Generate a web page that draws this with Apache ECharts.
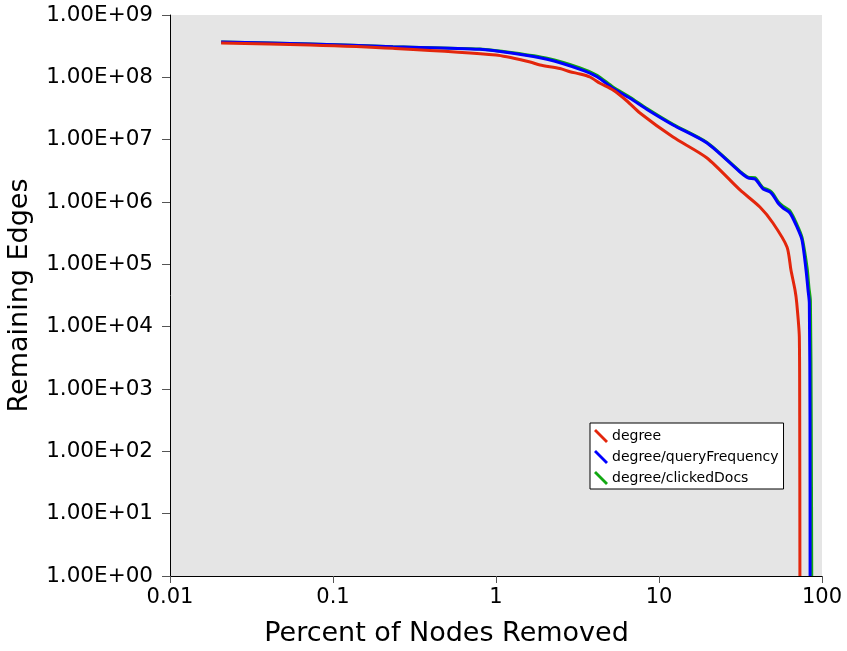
<!DOCTYPE html>
<html>
<head>
<meta charset="utf-8">
<script src="https://cdn.jsdelivr.net/npm/echarts@6/dist/echarts.min.js"></script>
<style>
  html, body { margin: 0; padding: 0; background: #ffffff; }
  #chart { width: 847px; height: 651px; }
</style>
</head>
<body>
<div id="chart"></div>
<script>
// Remaining edges after removing nodes, ordered by three ranking strategies
const seriesNames = ['degree', 'degree/queryFrequency', 'degree/clickedDocs'];

const degreeX = [0.0206, 0.0723, 0.233, 1.0, 1.62, 1.862, 2.47, 2.845, 3.277, 3.77, 4.345, 5.22, 6.36, 7.64, 12.19, 19.7, 31.4, 41.6, 50.0, 61.0, 64.5, 68.3, 70.0, 72.6, 73.0, 73.2];
const degreeY = [3.56e8, 3.30e8, 2.92e8, 2.28e8, 1.76e8, 1.577e8, 1.385e8, 1.231e8, 1.131e8, 1.012e8, 8.02e7, 6.26e7, 4.17e7, 2.68e7, 1.10e7, 5.08e6, 1.56e6, 8.31e5, 4.60e5, 1.90e5, 8.11e4, 3.87e4, 2.39e4, 6820, 318, 1];

const queryFreqX = [0.0206, 0.0723, 0.233, 0.798, 1.271, 2.055, 3.277, 4.165, 5.22, 6.64, 8.44, 12.19, 19.7, 31.4, 35.2, 38.8, 41.6, 43.5, 48.0, 50.0, 53.7, 57.7, 63.6, 70.2, 75.4, 79.8, 82.1, 83.6, 84.4, 84.5];
const queryFreqY = [3.69e8, 3.42e8, 3.10e8, 2.82e8, 2.43e8, 1.947e8, 1.345e8, 1.024e8, 6.67e7, 4.61e7, 3.05e7, 1.72e7, 8.84e6, 3.03e6, 2.43e6, 2.34e6, 1.87e6, 1.62e6, 1.45e6, 1.29e6, 9.63e5, 8.01e5, 6.66e5, 3.97e5, 2.46e5, 8.11e4, 3.87e4, 2.39e4, 318, 1];

const clickedDocsX = [0.0206, 0.0723, 0.233, 0.798, 1.271, 2.055, 3.277, 4.165, 5.22, 6.64, 8.44, 12.19, 19.7, 31.4, 35.2, 38.8, 41.6, 43.5, 48.0, 50.0, 53.7, 57.7, 63.6, 70.2, 75.4, 81.0, 83.2, 84.9, 85.9, 86.5];
const clickedDocsY = [3.69e8, 3.42e8, 3.10e8, 2.84e8, 2.47e8, 2.02e8, 1.42e8, 1.08e8, 7.0e7, 4.8e7, 3.15e7, 1.76e7, 9.0e6, 3.10e6, 2.50e6, 2.45e6, 1.95e6, 1.70e6, 1.52e6, 1.36e6, 1.02e6, 8.6e5, 7.2e5, 4.35e5, 2.7e5, 8.8e4, 4.2e4, 2.6e4, 330, 1];

const xTickLabels = ['0.01', '0.1', '1', '10', '100'];
const yTickLabels = ['1.00E+00', '1.00E+01', '1.00E+02', '1.00E+03', '1.00E+04', '1.00E+05', '1.00E+06', '1.00E+07', '1.00E+08', '1.00E+09'];

const colors = {
  'degree': '#e3260c',
  'degree/queryFrequency': '#0000ff',
  'degree/clickedDocs': '#12a812'
};

const FONT = 'DejaVu Sans';

function zip(xs, ys) {
  return xs.map((x, i) => [x, ys[i]]);
}

function lineSeries(name, xs, ys) {
  return {
    name: name,
    type: 'line',
    data: zip(xs, ys),
    showSymbol: false,
    symbol: 'none',
    smooth: 0.25,
    color: colors[name],
    lineStyle: { width: 3, color: colors[name] }
  };
}

const chart = echarts.init(document.getElementById('chart'), null, { renderer: 'canvas' });

chart.setOption({
  animation: false,
  backgroundColor: '#ffffff',
  textStyle: { fontFamily: FONT },
  grid: {
    left: 170, right: 25, top: 15, bottom: 75,
    outerBoundsMode: 'none',
    containLabel: false,
    show: true, backgroundColor: '#e5e5e5', borderWidth: 0
  },
  legend: {
    orient: 'vertical',
    left: 590, top: 423,
    data: seriesNames,
    backgroundColor: '#ffffff',
    borderColor: '#000000',
    borderWidth: 1,
    borderRadius: 0,
    padding: [6, 5, 4, 4],
    itemGap: 7,
    itemWidth: 14,
    itemHeight: 14,
    icon: 'path://M0,2 L2,0 L14,12 L12,14 Z',
    textStyle: { fontFamily: FONT, fontSize: 14, color: '#000000', padding: [0, 0, 0, -1] }
  },
  xAxis: {
    type: 'log',
    logBase: 10,
    min: 0.01,
    max: 100,
    interval: 1,
    name: 'Percent of Nodes Removed',
    nameLocation: 'middle',
    nameGap: 44,
    nameTextStyle: { fontFamily: FONT, fontSize: 27, color: '#000000', padding: [0, 99, 0, 0] },
    axisLine: { show: true, onZero: false, lineStyle: { color: '#000000', width: 1 } },
    axisTick: { show: true, length: 7, lineStyle: { color: '#555555' } },
    minorTick: { show: false },
    splitLine: { show: false },
    axisLabel: {
      margin: 11,
      fontFamily: FONT, fontSize: 21, color: '#000000',
      formatter: v => xTickLabels[Math.round(Math.log10(v)) + 2]
    }
  },
  yAxis: {
    type: 'log',
    logBase: 10,
    min: 1,
    max: 1e9,
    interval: 1,
    name: 'Remaining Edges',
    nameLocation: 'middle',
    nameGap: 137,
    nameTextStyle: { fontFamily: FONT, fontSize: 27, color: '#000000' },
    axisLine: { show: true, onZero: false, lineStyle: { color: '#000000', width: 1 } },
    axisTick: { show: true, length: 8, lineStyle: { color: '#555555' } },
    minorTick: { show: false },
    splitLine: { show: false },
    axisLabel: {
      margin: 17,
      fontFamily: FONT, fontSize: 21.5, color: '#000000',
      formatter: v => yTickLabels[Math.round(Math.log10(v))]
    }
  },
  series: [
    lineSeries('degree/clickedDocs', clickedDocsX, clickedDocsY),
    lineSeries('degree/queryFrequency', queryFreqX, queryFreqY),
    lineSeries('degree', degreeX, degreeY)
  ]
});
</script>
</body>
</html>
